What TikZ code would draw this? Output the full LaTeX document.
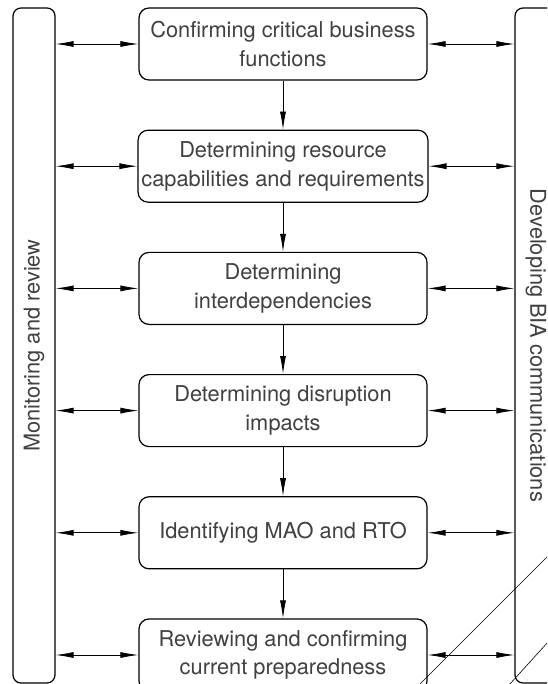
\documentclass[tikz,border=0pt]{standalone}
\usepackage{fontspec}
\setmainfont{TeX Gyre Heros}
\usetikzlibrary{arrows.meta,positioning}

\tikzset{
  stage/.style={draw, rounded corners=10pt, line width=1.2pt,
    minimum width=288pt, minimum height=72pt, align=center,
    text=black!75, font=\fontsize{21.8}{28.5}\selectfont},
  sidebar/.style={draw, rounded corners=8pt, line width=1.2pt,
    minimum width=675pt, minimum height=42pt,
    text=black!75, font=\fontsize{21.8}{28.5}\selectfont},
  link/.style={line width=0.8pt,
    {Latex[length=18pt,width=6pt]}-{Latex[length=18pt,width=6pt]}},
  flow/.style={line width=0.8pt, -{Latex[length=18pt,width=6pt]}}
}

\begin{document}
\begin{tikzpicture}[x=1pt,y=-1pt, node distance=49pt]
  \useasboundingbox (0,0) rectangle (547,684);
  \clip (0,0) rectangle (547,684);

  % side bars
  \node[sidebar, rotate=90] (monitor) at (34,345.5) {Monitoring and review};
  \node[sidebar, rotate=-90] (comms) at (536,345.5) {Developing BIA communications};

  % stages
  \node[stage] (critical) at (283,44) {Confirming critical business\\functions};
  \node[stage, below=of critical] (resources) {Determining resource\\capabilities and requirements};
  \node[stage, below=of resources] (interdep) {Determining\\interdependencies};
  \node[stage, below=of interdep] (impacts) {Determining disruption\\impacts};
  \node[stage, below=of impacts] (maorto) {Identifying MAO and RTO};
  \node[stage, below=of maorto] (prepared) {Reviewing and confirming\\current preparedness};

  \foreach \s in {critical,resources,interdep,impacts,maorto,prepared}{
    \draw[link] (\s.west -| monitor.south) -- (\s.west);
    \draw[link] (\s.east) -- (\s.east -| comms.south);
  }

  \draw[flow] (critical) -- (resources);
  \draw[flow] (resources) -- (interdep);
  \draw[flow] (interdep) -- (impacts);
  \draw[flow] (impacts) -- (maorto);
  \draw[flow] (maorto) -- (prepared);

  % stray strokes
  \draw[line width=0.6pt] (419,685) -- (548,556);
  \draw[line width=0.6pt] (509,685) -- (548,642);
\end{tikzpicture}
\end{document}
